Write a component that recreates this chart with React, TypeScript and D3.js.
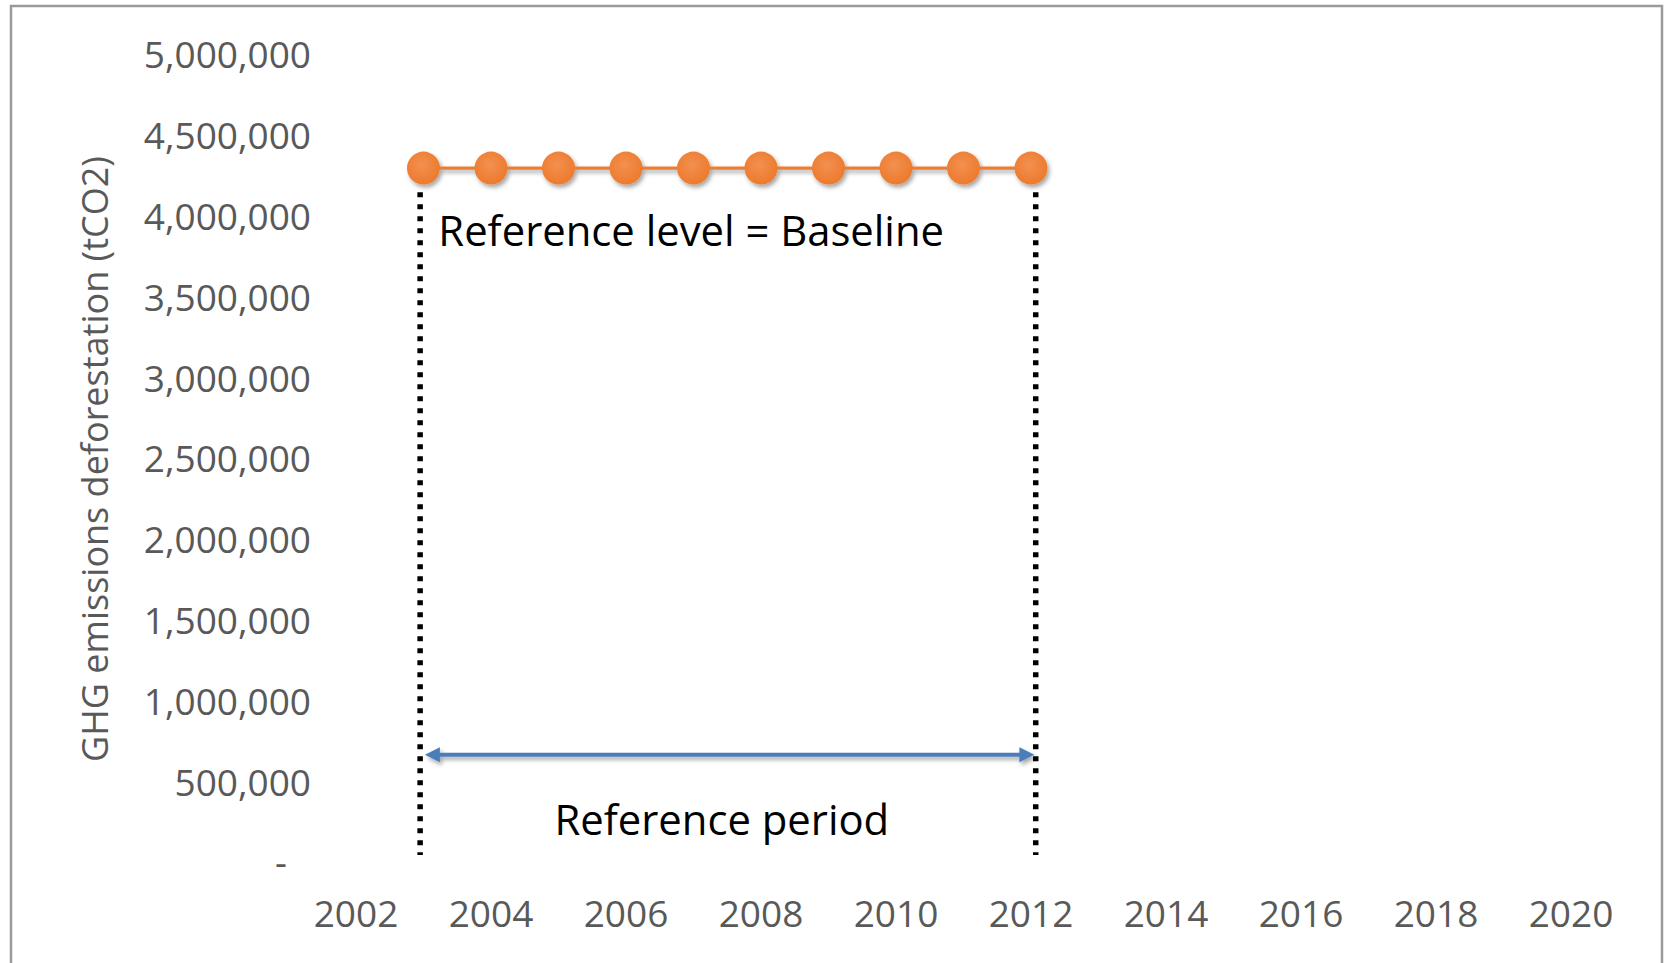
import React from "react";
import * as d3 from "d3";

// ---- data ----
const years: number[] = [2003, 2004, 2005, 2006, 2007, 2008, 2009, 2010, 2011, 2012];
const baseline: number[] = [4300000, 4300000, 4300000, 4300000, 4300000, 4300000, 4300000, 4300000, 4300000, 4300000];
const yTicks: number[] = [0, 500000, 1000000, 1500000, 2000000, 2500000, 3000000, 3500000, 4000000, 4500000, 5000000];
const xTicks: number[] = [2002, 2004, 2006, 2008, 2010, 2012, 2014, 2016, 2018, 2020];
const periodBounds: number[] = [2002.95, 2012.07]; // dotted vertical lines (years)
const periodSpan: number[] = [50000, 4150000]; // dotted lines vertical extent (tCO2)
const arrowYears: number[] = [2003.02, 2012.05];
const arrowValue = 670000;
const levelLabel = { text: "Reference level = Baseline", year: 2003.22, value: 3818000 };
const periodLabel = { text: "Reference period", year: 2007.42, value: 176000 };
const yTitle = "GHG emissions deforestation (tCO2)";

const W = 1665;
const H = 963;

export default function App() {
  const x = d3.scaleLinear().domain([2001, 2021]).range([288.5, 1638.5]);
  const y = d3.scaleLinear().domain([0, 5000000]).range([863, 55]);
  const fmt = d3.format(",");
  const pts = years.map((yr, i) => [yr, baseline[i]] as [number, number]);
  const line = d3.line<[number, number]>().x((d) => x(d[0])).y((d) => y(d[1]));
  const font = "'Open Sans', 'Noto Sans', sans-serif";
  const ay = y(arrowValue);
  const ax0 = x(arrowYears[0]);
  const ax1 = x(arrowYears[1]);
  const ah = 15;
  const aw = 7.5;

  return (
    <svg width={W} height={H} style={{ position: "absolute", left: 0, top: 0, background: "#fff" }}>
      <defs>
        <filter id="sh" x="-50%" y="-50%" width="200%" height="200%">
          <feDropShadow dx="2" dy="3" stdDeviation="2.2" floodColor="#000" floodOpacity="0.35" />
        </filter>
        <radialGradient id="mk" cx="45%" cy="40%" r="60%">
          <stop offset="0%" stopColor="#F39050" />
          <stop offset="100%" stopColor="#EC7A2C" />
        </radialGradient>
      </defs>
      <rect x={11} y={6} width={1651} height={1000} fill="#fff" stroke="#9a9a9a" strokeWidth={2.5} />

      {/* y tick labels */}
      {yTicks.map((t) => (
        <text
          key={"y" + t}
          x={t === 0 ? 287 : 311}
          y={y(t)}
          dy="0.36em"
          textAnchor="end"
          fontFamily={font}
          fontSize={37}
          fill="#595959"
        >
          {t === 0 ? "-" : fmt(t)}
        </text>
      ))}

      {/* x tick labels */}
      {xTicks.map((t) => (
        <text
          key={"x" + t}
          x={x(t)}
          y={914}
          dy="0.36em"
          textAnchor="middle"
          fontFamily={font}
          fontSize={37}
          fill="#595959"
        >
          {t}
        </text>
      ))}

      {/* y title */}
      <text
        transform={`translate(95, ${y(2500000)}) rotate(-90)`}
        textAnchor="middle"
        dy="0.36em"
        fontFamily={font}
        fontSize={36}
        fill="#595959"
      >
        {yTitle}
      </text>

      {/* dotted period lines */}
      {periodBounds.map((b) => (
        <line
          key={"p" + b}
          x1={x(b)}
          x2={x(b)}
          y1={y(periodSpan[1])}
          y2={y(periodSpan[0])}
          stroke="#000"
          strokeWidth={5.5}
          strokeDasharray="5 7"
        />
      ))}

      {/* baseline series */}
      <g filter="url(#sh)">
        <path d={line(pts) || ""} fill="none" stroke="#ED7D31" strokeWidth={3.2} />
        {pts.map((p, i) => (
          <circle key={"c" + i} cx={x(p[0])} cy={y(p[1])} r={16.5} fill="url(#mk)" />
        ))}
      </g>

      {/* double-headed arrow */}
      <g filter="url(#sh)" fill="#4A7EBB" stroke="none">
        <line x1={ax0 + ah - 1} x2={ax1 - ah + 1} y1={ay} y2={ay} stroke="#4A7EBB" strokeWidth={4} />
        <path d={`M${ax0},${ay} L${ax0 + ah},${ay - aw} L${ax0 + ah},${ay + aw} Z`} />
        <path d={`M${ax1},${ay} L${ax1 - ah},${ay - aw} L${ax1 - ah},${ay + aw} Z`} />
      </g>

      {/* annotations */}
      <text x={x(levelLabel.year)} y={y(levelLabel.value)} fontFamily={font} fontSize={41.8} fill="#000">
        {levelLabel.text}
      </text>
      <text
        x={x(periodLabel.year)}
        y={y(periodLabel.value)}
        textAnchor="middle"
        fontFamily={font}
        fontSize={41.8}
        fill="#000"
      >
        {periodLabel.text}
      </text>
    </svg>
  );
}
